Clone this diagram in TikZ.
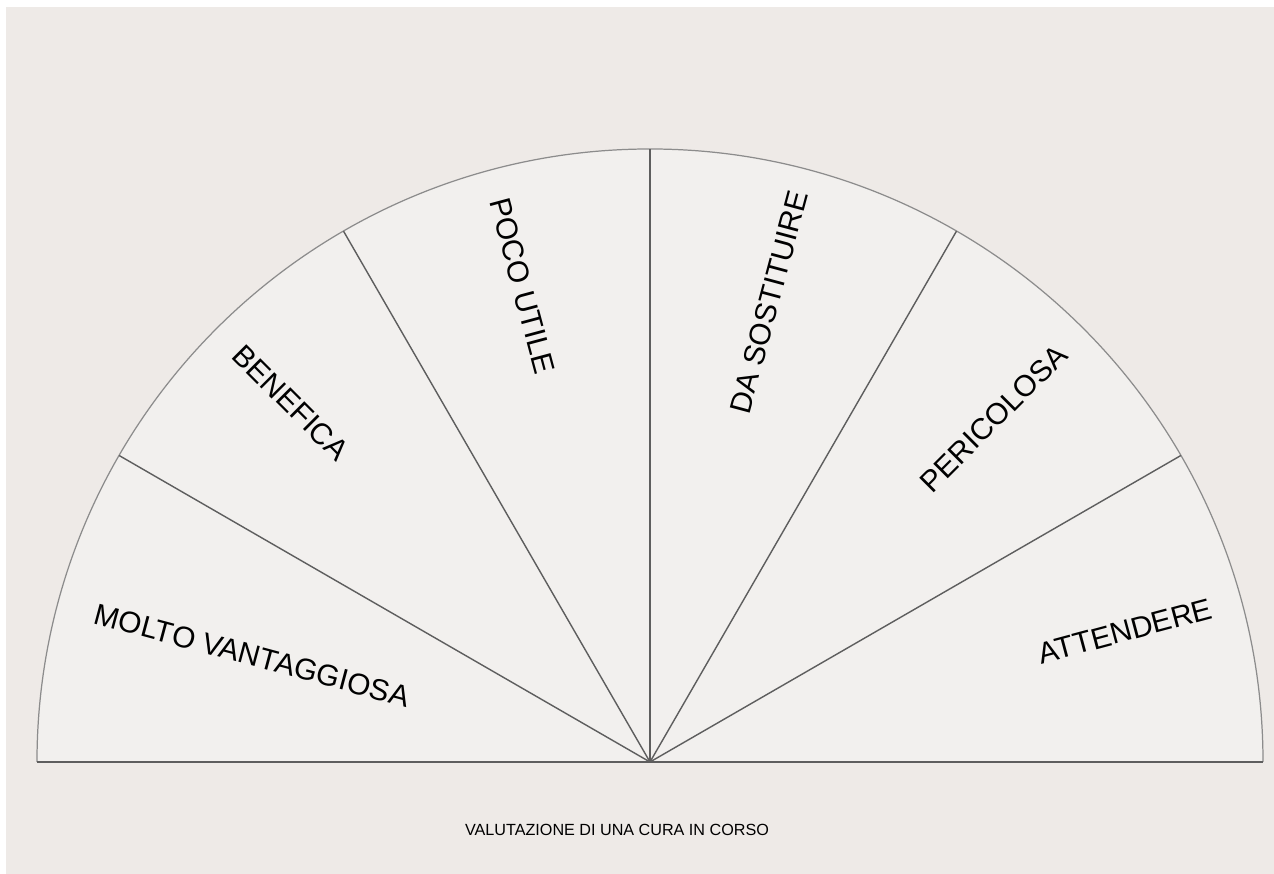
\documentclass[tikz,border=0pt]{standalone}
\usepackage{fontspec}
\setmainfont{Liberation Sans}
\usepackage{xcolor}
\usepackage{tikz}
\usetikzlibrary{positioning}

\definecolor{paper}{HTML}{EEEAE7}
\definecolor{dialfill}{HTML}{F2F0EE}
\definecolor{rim}{HTML}{8C8C8C}
\definecolor{spoke}{HTML}{5E5E5E}

\begin{document}
\begin{tikzpicture}[
    x=0.02cm, y=0.02cm,
    divider/.style={
        draw=spoke,
        line width=0.8pt
    },
    verdict/.style={
        inner sep=0pt,
        font=\fontsize{17}{20}\selectfont
    },
    caption/.style={
        inner sep=0pt,
        font=\fontsize{9.2}{11}\selectfont
    }
]

% canvas with the thin white strip on top and left
\fill[white] (-650,-112) rectangle (624,762);
\fill[paper] (-644,-112) rectangle (624,755);
\useasboundingbox (-650,-112) rectangle (624,762);

\coordinate (o) at (0,0);
\coordinate (r0) at (0:613);
\coordinate (r30) at (30:613);
\coordinate (r60) at (60:613);
\coordinate (r90) at (90:613);
\coordinate (r120) at (120:613);
\coordinate (r150) at (150:613);
\coordinate (r180) at (180:613);

% dial
\fill[dialfill] (r0) arc[start angle=0, end angle=180, radius=613] -- cycle;
\draw[rim, line width=0.7pt] (r0) arc[start angle=0, end angle=180, radius=613];
\draw[spoke, line width=1.1pt] (r180) -- (r0);

\draw[divider] (o) -- (r30);
\draw[divider] (o) -- (r60);
\draw[divider] (o) -- (r90);
\draw[divider] (o) -- (r120);
\draw[divider] (o) -- (r150);

% sector labels
\node[verdict, rotate=-15] (molto) at (165:412) {MOLTO VANTAGGIOSA};
\node[verdict, rotate=-45] (benefica) at (135:508) {BENEFICA};
\node[verdict, rotate=-75] (poco) at (105:493) {POCO UTILE};
\node[verdict, rotate=75] (sostituire) at (75.5:475) {DA SOSTITUIRE};
\node[verdict, rotate=45] (pericolosa) at (45:486) {PERICOLOSA};
\node[verdict, rotate=15] (attendere) at (15.4:493) {ATTENDERE};

\node[caption] (title) at (-33,-68) {VALUTAZIONE DI UNA CURA IN CORSO};

\end{tikzpicture}
\end{document}
